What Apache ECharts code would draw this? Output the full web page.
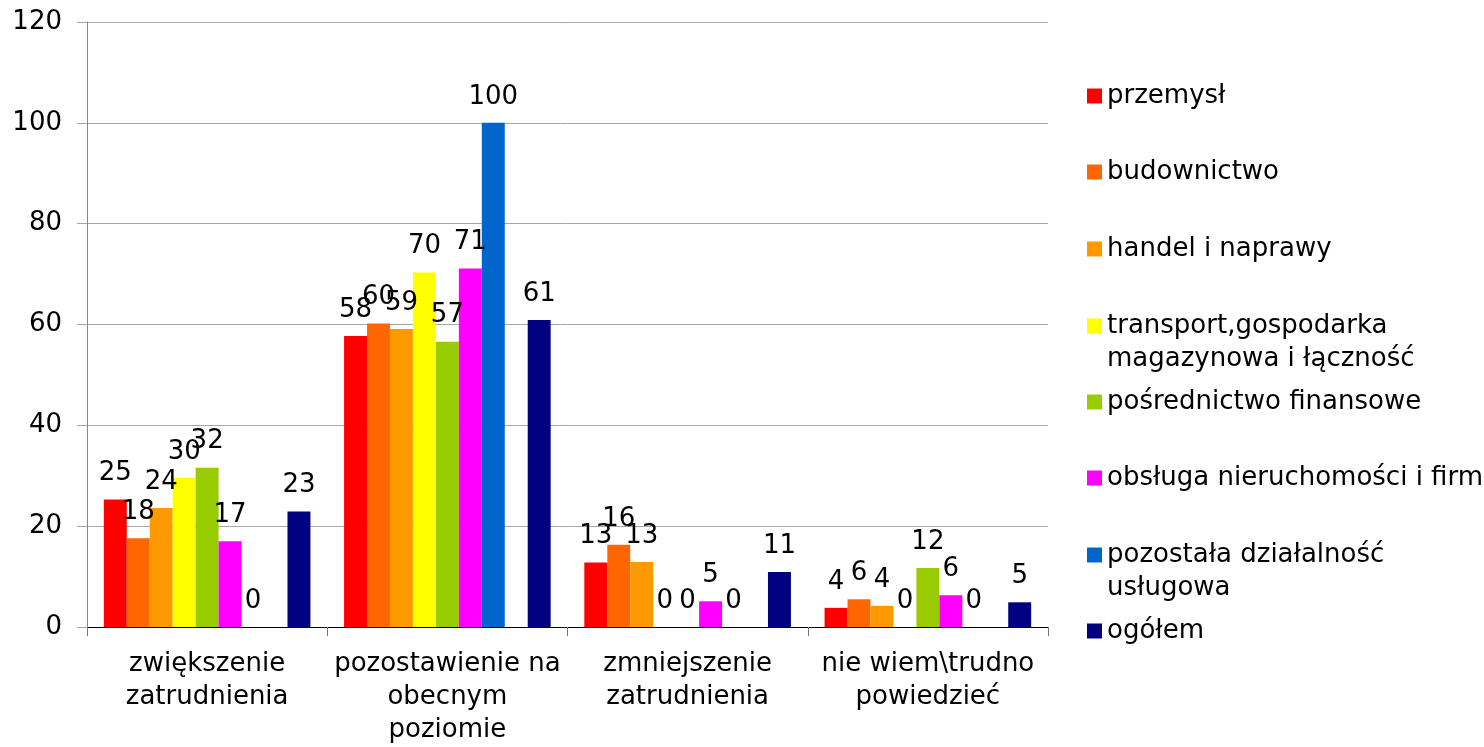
<!DOCTYPE html>
<html>
<head>
<meta charset="utf-8">
<script src="https://cdn.jsdelivr.net/npm/echarts@6/dist/echarts.min.js"></script>
<style>
  html, body { margin: 0; padding: 0; background: #fff; }
  #chart { width: 1484px; height: 747px; }
</style>
</head>
<body>
<div id="chart"></div>
<script>
const categories = [
  'zwiększenie\nzatrudnienia',
  'pozostawienie na\nobecnym\npoziomie',
  'zmniejszenie\nzatrudnienia',
  'nie wiem\\trudno\npowiedzieć'
]
const seriesNames = [
  'przemysł',
  'budownictwo',
  'handel i naprawy',
  'transport,gospodarka\nmagazynowa i łączność',
  'pośrednictwo finansowe',
  'obsługa nieruchomości i firm',
  'pozostała działalność\nusługowa',
  'ogółem'
]
const przemysl = [25.3, 57.7, 12.8, 3.8]
const budownictwo = [17.6, 60.2, 16.3, 5.5]
const handel = [23.6, 59.1, 12.9, 4.2]
const transport = [29.6, 70.3, 0, 0]
const posrednictwo = [31.6, 56.6, 0, 11.7]
const obsluga = [17.0, 71.1, 5.1, 6.3]
const pozostala = [0, 100, 0, 0]
const ogolem = [22.9, 60.9, 10.9, 4.9]
const yMin = 0
const yMax = 120
const yStep = 20

const colors = ['#ff0000', '#ff6600', '#ff9900', '#ffff00', '#99cc00', '#ff00ff', '#0066cc', '#000080']
const values = [przemysl, budownictwo, handel, transport, posrednictwo, obsluga, pozostala, ogolem]
// vertical centre of each legend entry (first line)
const legendCenters = [96, 172, 249, 326, 402, 478, 555, 631]

const FONT = 'DejaVu Sans'
const FS = 26
const LH = 33

function barSeries(name, data, color) {
  return {
    name: name,
    type: 'bar',
    data: data,
    barGap: '0%',
    barCategoryGap: '14%',
    itemStyle: { color: color },
    label: {
      show: true,
      position: 'top',
      distance: 13,
      color: '#000',
      fontFamily: FONT,
      fontSize: FS,
      formatter: p => Math.round(p.value)
    }
  }
}

const series = []
seriesNames.forEach((n, i) => {
  if (i === 7) {
    // empty slot between "pozostała" and "ogółem"
    series.push({ name: '_gap', type: 'bar', data: categories.map(() => null), barGap: '0%', barCategoryGap: '14%' })
  }
  series.push(barSeries(n, values[i], colors[i]))
})

// one legend per entry so the spacing matches; two-line names get a blank
// first line so the marker sits level with the first line of text
const legends = seriesNames.map((n, i) => {
  const multi = n.indexOf('\n') >= 0
  return {
    data: [n],
    orient: 'vertical',
    left: 1087,
    top: legendCenters[i] - (multi ? LH * 1.5 : LH / 2),
    padding: 0,
    icon: 'rect',
    itemWidth: 15,
    itemHeight: 15,
    selectedMode: false,
    formatter: name => (multi ? '\n' + name : name),
    textStyle: {
      color: '#000',
      fontFamily: FONT,
      fontSize: FS,
      lineHeight: LH
    }
  }
})

const chart = echarts.init(document.getElementById('chart'))
chart.setOption({
  animation: false,
  backgroundColor: '#fff',
  color: colors,
  grid: { left: 87, right: 436, top: 22, bottom: 118, containLabel: false },
  legend: legends,
  xAxis: {
    type: 'category',
    data: categories,
    axisLine: { lineStyle: { color: '#000', width: 1 } },
    axisTick: { show: true, length: 9, lineStyle: { color: '#777' } },
    axisLabel: {
      interval: 0,
      margin: 21,
      color: '#000',
      fontFamily: FONT,
      fontSize: FS,
      lineHeight: LH
    }
  },
  yAxis: {
    type: 'value',
    min: yMin,
    max: yMax,
    interval: yStep,
    axisLine: { show: true, lineStyle: { color: '#888' } },
    axisTick: { show: true, length: 10, lineStyle: { color: '#a6a6a6' } },
    splitLine: { lineStyle: { color: '#a6a6a6' } },
    axisLabel: {
      margin: 25,
      color: '#000',
      fontFamily: FONT,
      fontSize: FS
    }
  },
  series: series
})
</script>
</body>
</html>
